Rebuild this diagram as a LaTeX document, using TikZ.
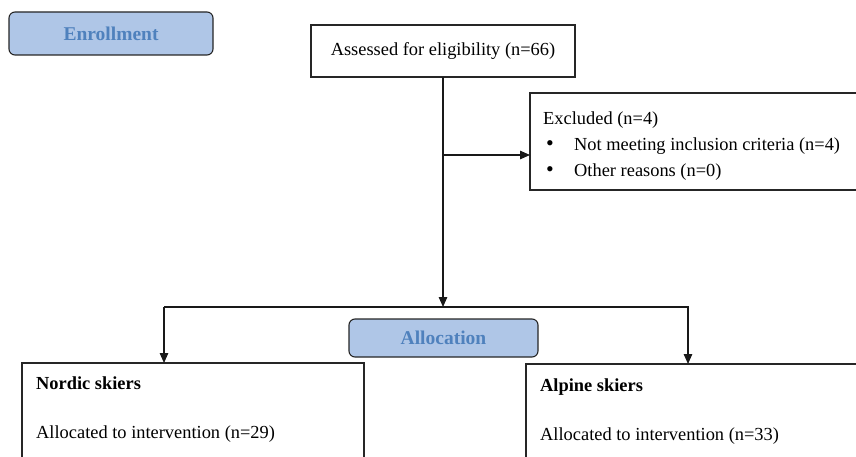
\documentclass[tikz,border=0pt]{standalone}
\usepackage{fontspec}
\setmainfont{Liberation Serif}
\usetikzlibrary{arrows.meta}
\definecolor{stagefill}{HTML}{AFC6E7}
\definecolor{stagetext}{HTML}{4F81BD}
\begin{document}
\begin{tikzpicture}[x=1pt,y=-1pt,
  stage/.style={draw=black!85,line width=1.1pt,rounded corners=6pt,fill=stagefill,text=stagetext,font=\bfseries\fontsize{19.5}{22}\selectfont},
  plainbox/.style={draw=black!85,line width=1.2pt},
  txt/.style={font=\fontsize{18.4}{21}\selectfont,anchor=base west,inner sep=0pt},
  btxt/.style={txt,font=\bfseries\fontsize{18.4}{21}\selectfont},
  conn/.style={line width=1.3pt,draw=black!90},
  arr/.style={conn,-{Triangle[length=10pt,width=8.5pt]}}]
\useasboundingbox (0,0) rectangle (856,457);
\clip (0,0) rectangle (856,457);
% stage labels
\node[stage,minimum width=204pt,minimum height=43pt] (enroll) at (111,33.5) {Enrollment};
\node[stage,minimum width=189pt,minimum height=38pt] (alloc) at (443.5,338) {Allocation};
% boxes
\draw[plainbox] (311,25) rectangle (575,77);
\node[txt,anchor=center] (assess) at (443,51) {Assessed for eligibility (n=66)};
\coordinate (assessB) at (443,77);
\draw[plainbox] (530,93) rectangle (870,190);
\coordinate (exclW) at (530,155);
\node[txt] (ex1) at (543,125) {Excluded (n=4)};
\node[txt] (ex2) at (546,151) {\fontsize{22}{22}\selectfont\textbullet};
\node[txt] (ex3) at (574,151) {Not meeting inclusion criteria (n=4)};
\node[txt] (ex4) at (546,177) {\fontsize{22}{22}\selectfont\textbullet};
\node[txt] (ex5) at (574,177) {Other reasons (n=0)};
\draw[plainbox] (22,363) rectangle (364,470);
\coordinate (nordT) at (164,363);
\node[btxt] (n1) at (36,389) {Nordic skiers};
\node[txt] (n2) at (36,438) {Allocated to intervention (n=29)};
\draw[plainbox] (526,364) rectangle (870,470);
\coordinate (alpT) at (688,364);
\node[btxt] (a1) at (540,391) {Alpine skiers};
\node[txt] (a2) at (540,440) {Allocated to intervention (n=33)};
% connectors
\coordinate (branch) at (443,155);
\coordinate (split) at (443,307);
\coordinate (splitL) at (164,307);
\coordinate (splitR) at (688,307);
\draw[arr] (assessB) -- (split);
\draw[arr] (branch) -- (exclW);
\draw[arr] (splitL) -- (nordT);
\draw[arr] (splitL) -- (splitR) -- (alpT);
\end{tikzpicture}
\end{document}
